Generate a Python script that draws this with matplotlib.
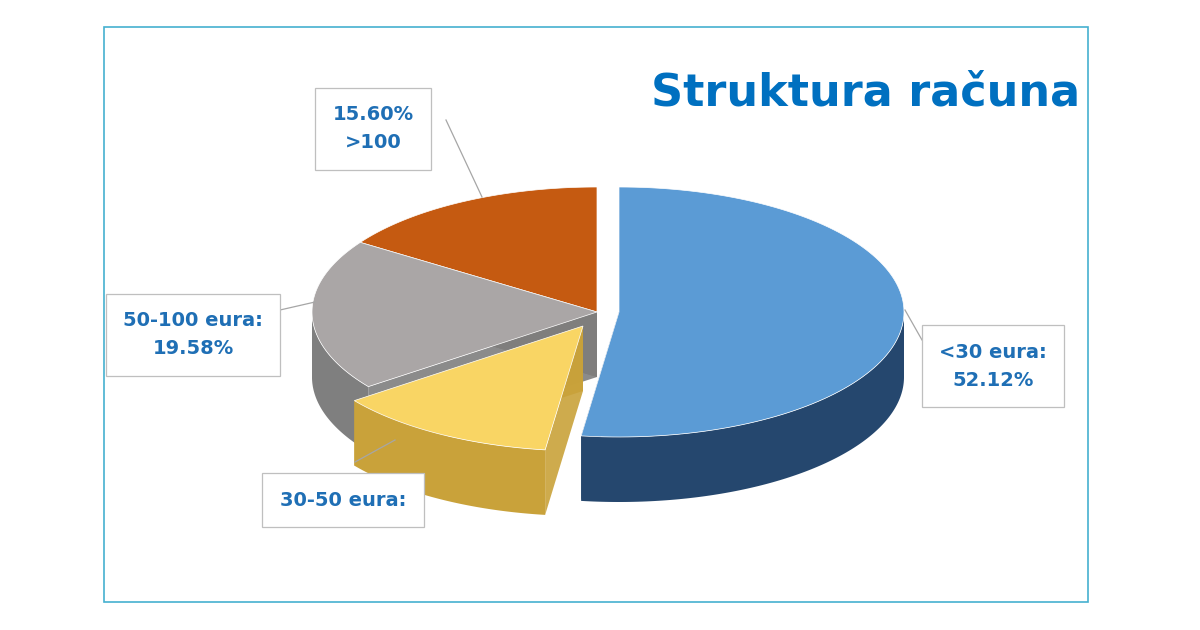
import numpy as np
import matplotlib.pyplot as plt
from matplotlib.patches import Polygon, Rectangle

kategorije = ["<30 eura", "30-50 eura", "50-100 eura", ">100"]
udjeli = [52.12, 12.70, 19.58, 15.60]
boje_gore = ["#5b9bd5", "#f9d564", "#aaa6a6", "#c55a11"]
boje_bok = ["#25476e", "#c9a23a", "#7f7f7f", "#8c3e0a"]
pomaci = [(22, 0), (-14, 14), (0, 0), (0, 0)]

# tekst oznaka (zadnja je u originalu odrezana)
oznake = ["<30 eura:\n52.12%", "30-50 eura:", "50-100 eura:\n19.58%", "15.60%\n>100"]
poz_oznaka = [(993, 366), (343, 500), (193, 335), (373, 129)]
vodilice = [((922, 340), (905, 310)), ((355, 462), (395, 440)),
            ((280, 310), (315, 302)), ((446, 120), (482, 197))]

cx, cy, rx, ry, dub = 597, 312, 285, 125, 65

fig = plt.figure(figsize=(12, 6.3), dpi=100)
ax = fig.add_axes([0, 0, 1, 1])
ax.set_xlim(0, 1200)
ax.set_ylim(630, 0)
ax.axis("off")

ax.add_patch(Rectangle((104, 27), 984, 575, fill=False, ec="#45b0d0", lw=1.2))
ax.text(1080, 93, "Struktura računa", color="#0070c0", fontsize=32,
        fontweight="bold", ha="right", va="center")

# kutovi kriški (od 12 sati u smjeru kazaljke)
kut = 90.0
kriske = []
for i, u in enumerate(udjeli):
    a1 = kut
    a0 = kut - u * 3.6
    kriske.append((i, a0, a1))
    kut = a0


def tocke(a0, a1, ox, oy, dy=0):
    t = np.radians(np.linspace(a0, a1, 120))
    return np.column_stack([cx + ox + rx * np.cos(t), cy + oy + dy - ry * np.sin(t)])


def redoslijed(k):
    i, a0, a1 = k
    return -np.sin(np.radians((a0 + a1) / 2)) + pomaci[i][1] / 100

for i, a0, a1 in sorted(kriske, key=redoslijed):
    ox, oy = pomaci[i]
    c = (cx + ox, cy + oy)
    # radijalne stranice
    for a in (a0, a1):
        p = tocke(a, a, ox, oy)[0]
        ax.add_patch(Polygon([c, p, (p[0], p[1] + dub), (c[0], c[1] + dub)],
                             closed=True, fc=boje_bok[i], ec="none", alpha=0.9))
    # vanjski zid (samo prednji dio)
    dijelovi = []
    for off in (0, -360, 360):
        l, h = max(a0, -180 + off), min(a1, 0 + off)
        if l < h:
            dijelovi.append((l, h))
    for l, h in dijelovi:
        gornja = tocke(l, h, ox, oy)
        donja = tocke(h, l, ox, oy, dub)
        ax.add_patch(Polygon(np.vstack([gornja, donja]), closed=True,
                             fc=boje_bok[i], ec="none"))
    # gornja ploha
    ax.add_patch(Polygon(np.vstack([[c], tocke(a0, a1, ox, oy)]), closed=True,
                         fc=boje_gore[i], ec="white", lw=0.5))

for txt, (x, y), (p0, p1) in zip(oznake, poz_oznaka, vodilice):
    ax.plot([p0[0], p1[0]], [p0[1], p1[1]], color="#a6a6a6", lw=0.9)
    ax.text(x, y, txt, ha="center", va="center", color="#1f6fb5", fontsize=14,
            fontweight="bold", linespacing=1.6,
            bbox=dict(boxstyle="square,pad=0.9", fc="white", ec="#bfbfbf", lw=0.9))

fig.savefig("out.png", dpi=100)
